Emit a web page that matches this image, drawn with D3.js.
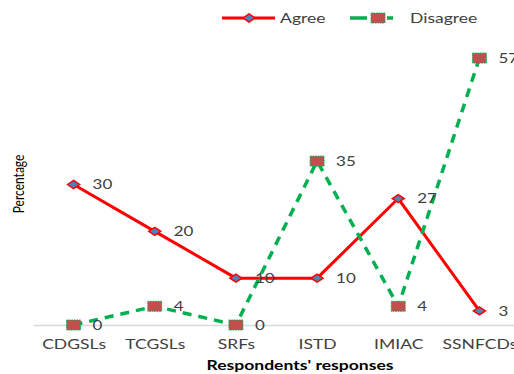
<!DOCTYPE html>
<html>
<head>
<meta charset="utf-8">
<script src="https://cdn.jsdelivr.net/npm/d3@7"></script>
<style>
  body { margin: 0; background: #fff; }
  svg text { font-family: Lato, "Open Sans", sans-serif; }
</style>
</head>
<body>
<div id="chart"></div>
<script>
const categories = ["CDGSLs", "TCGSLs", "SRFs", "ISTD", "IMIAC", "SSNFCDs"];
const agree = [30, 20, 10, 10, 27, 3];
const disagree = [0, 4, 0, 35, 4, 57];
const seriesNames = ["Agree", "Disagree"];

const W = 514, H = 374;
const sx = 1.35; // the original picture is stretched sideways

const svg = d3.select("#chart")
    .append("svg")
    .attr("width", W)
    .attr("height", H);

// Scales
const x = d3.scalePoint()
    .domain(categories)
    .range([33, 520])
    .padding(0.5);

const y = d3.scaleLinear()
    .domain([0, 60])
    .range([325, 44]);

// x axis (baseline and labels)
const xAxis = svg.append("g")
    .attr("transform", `translate(0,${y(0)})`)
    .call(d3.axisBottom(x).tickSize(0).tickPadding(15));
xAxis.select(".domain").attr("stroke", "#d9d9d9").attr("stroke-width", 1.5);
xAxis.selectAll("text")
    .attr("font-size", 13)
    .attr("fill", "#404040")
    .attr("transform", `scale(${sx},1)`)
    .style("font-family", "Lato, sans-serif");

// axis titles
svg.append("text")
    .attr("transform", `translate(300,370) scale(${sx},1)`)
    .attr("text-anchor", "middle")
    .attr("font-size", 13)
    .attr("font-weight", "bold")
    .attr("fill", "#000")
    .text("Respondents' responses");

svg.append("text")
    .attr("transform", `translate(24,184) rotate(-90) scale(1,${sx})`)
    .attr("text-anchor", "middle")
    .attr("font-size", 12)
    .attr("fill", "#000")
    .text("Percentage");

const line = d3.line()
    .x((d, i) => x(categories[i]))
    .y(d => y(d));

// Agree series
svg.append("path")
    .datum(agree)
    .attr("fill", "none")
    .attr("stroke", "#ff0000")
    .attr("stroke-width", 3)
    .attr("d", line);

const diamond = "M-6,0 L0,-4 L6,0 L0,4 Z";

svg.selectAll(".agree-dot")
    .data(agree)
    .enter()
    .append("path")
    .attr("class", "agree-dot")
    .attr("d", diamond)
    .attr("transform", (d, i) => `translate(${x(categories[i])},${y(d)})`)
    .attr("fill", "#4f81bd")
    .attr("stroke", "#ff0000")
    .attr("stroke-width", 1.5);

// Disagree series
svg.append("path")
    .datum(disagree)
    .attr("fill", "none")
    .attr("stroke", "#00b050")
    .attr("stroke-width", 3.5)
    .attr("stroke-dasharray", "9,7")
    .attr("d", line);

svg.selectAll(".dis-dot")
    .data(disagree)
    .enter()
    .append("rect")
    .attr("class", "dis-dot")
    .attr("x", (d, i) => x(categories[i]) - 7)
    .attr("y", d => y(d) - 5)
    .attr("width", 14)
    .attr("height", 10)
    .attr("fill", "#c0504d")
    .attr("stroke", "#00b050")
    .attr("stroke-width", 1)
    .attr("stroke-dasharray", "1.5,1");

// data labels
function labels(data) {
    svg.append("g").selectAll("text")
        .data(data)
        .enter()
        .append("text")
        .attr("transform", (d, i) => `translate(${x(categories[i]) + 19},${y(d)}) scale(${sx * 0.9},1)`)
        .attr("dy", "0.35em")
        .attr("font-size", 14)
        .attr("fill", "#404040")
        .text(d => d);
}
labels(agree);
labels(disagree);

// Legend
const legend = svg.append("g").attr("transform", "translate(0,18)");
legend.append("line")
    .attr("x1", 222).attr("x2", 275)
    .attr("stroke", "#ff0000").attr("stroke-width", 3);
legend.append("path")
    .attr("d", diamond)
    .attr("transform", "translate(249,0)")
    .attr("fill", "#4f81bd").attr("stroke", "#ff0000").attr("stroke-width", 1.5);
legend.append("text")
    .attr("transform", `translate(280,0) scale(${sx},1)`)
    .attr("dy", "0.35em")
    .attr("font-size", 13).attr("fill", "#404040")
    .text(seriesNames[0]);

legend.append("line")
    .attr("x1", 350).attr("x2", 393)
    .attr("stroke", "#00b050").attr("stroke-width", 3.5)
    .attr("stroke-dasharray", "17,20,10");
legend.append("rect")
    .attr("x", 371).attr("y", -5).attr("width", 14).attr("height", 10)
    .attr("fill", "#c0504d").attr("stroke", "#00b050")
    .attr("stroke-width", 1).attr("stroke-dasharray", "1.5,1");
legend.append("text")
    .attr("transform", `translate(410,0) scale(${sx},1)`)
    .attr("dy", "0.35em")
    .attr("font-size", 13).attr("fill", "#404040")
    .text(seriesNames[1]);
</script>
</body>
</html>
